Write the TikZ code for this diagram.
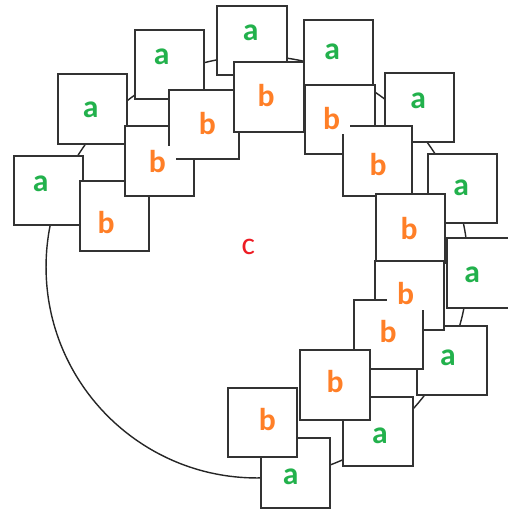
\documentclass[tikz,border=0pt]{standalone}
\usepackage{fontspec}
\setmainfont{Carlito}
\usetikzlibrary{positioning}
\definecolor{agreen}{RGB}{34,177,76}
\definecolor{borange}{RGB}{255,127,39}
\definecolor{cred}{RGB}{237,28,36}

\begin{document}
\begin{tikzpicture}[x=0.02cm,y=-0.02cm]
\tikzset{sq/.style = {draw=black!80, fill=white, line width=1.1pt, minimum size=1.39cm, inner sep=0pt},
         atext/.style = {text=agreen, font=\fontsize{18}{21}\selectfont\bfseries, inner sep=0pt},
         btext/.style = {text=borange, font=\fontsize{18}{21}\selectfont\bfseries, fill=white, minimum width=0.74cm, minimum height=0.64cm, inner sep=0pt}}
\useasboundingbox (0,0) rectangle (508,512);
\clip (0,0) rectangle (508,512);
\coordinate (ctr) at (257,267);
\draw[black!85, line width=0.8pt] (ctr) circle[radius=4.22cm];
\node[text=cred, font=\fontsize{18}{21}\selectfont, inner sep=0pt] (c) at (248.3,246.5) {c};

% outer ring
\node[sq] (a1) at (48.5,190.5) {};   \node[atext] (ta1) at (40.7,184) {a};
\node[sq] (a2) at (92.5,109) {};     \node[atext] (ta2) at (90.7,110) {a};
\node[sq] (a3) at (169.5,64.5) {};   \node[atext] (ta3) at (161.7,56.7) {a};
\node[sq] (a4) at (252,40.5) {};     \node[atext] (ta4) at (250.7,32.7) {a};
\node[sq] (a5) at (338.5,54.5) {};   \node[atext] (ta5) at (332.3,51.7) {a};
\node[sq] (a6) at (419.5,107.5) {};  \node[atext] (ta6) at (418.3,101) {a};
\node[sq] (a7) at (462.5,188.5) {};  \node[atext] (ta7) at (461.3,187.7) {a};
\node[sq] (a8) at (481.5,273) {};    \node[atext] (ta8) at (472.3,274.3) {a};
\node[sq] (a9) at (452,360.5) {};    \node[atext] (ta9) at (448,357.7) {a};
\node[sq] (a10) at (378,431.5) {};   \node[atext] (ta10) at (380,435.3) {a};
\node[sq] (a11) at (295.5,473) {};   \node[atext] (ta11) at (290.7,476.7) {a};

% inner ring, each label laid over the next square
\node[sq] (b1) at (114.5,216) {};
\node[sq] (b2) at (159.5,161) {};    \node[btext] (tb1) at (106,222.7) {b};
\node[sq] (b3) at (204,124.5) {};    \node[btext] (tb2) at (157.3,161.7) {b};
\node[sq] (b4) at (269,97) {};       \node[btext] (tb3) at (207.3,123.3) {b};
\node[sq] (b5) at (340,119.5) {};    \node[btext] (tb4) at (266,95.5) {b};
\node[sq] (b6) at (377.5,161) {};    \node[btext] (tb5) at (331.7,118.3) {b};
\node[sq] (b7) at (410.5,228.5) {};  \node[btext] (tb6) at (378,164.3) {b};
\node[sq] (b8) at (409.5,295.5) {};  \node[btext] (tb7) at (409,228.3) {b};
\node[sq] (b9) at (388.5,334.5) {};  \node[btext] (tb8) at (405.5,293.5) {b};
\node[sq] (b10) at (335,385) {};     \node[btext] (tb9) at (388,332) {b};
\node[sq] (b11) at (262.5,422.5) {}; \node[btext] (tb10) at (335,382) {b};
\node[btext] (tb11) at (267.3,419.3) {b};
\end{tikzpicture}
\end{document}
